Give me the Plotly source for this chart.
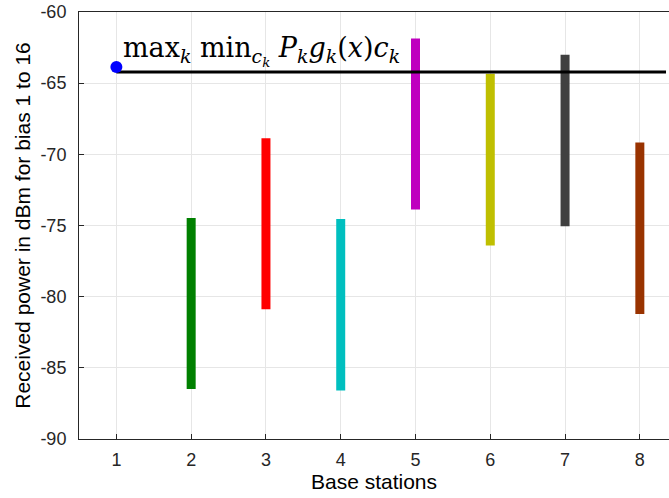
import plotly.graph_objects as go

stations = [2, 3, 4, 5, 6, 7, 8]
top_vals = [-74.47, -68.87, -74.55, -61.86, -64.34, -63.00, -69.17]
bottom_vals = [-86.49, -80.88, -86.59, -73.87, -76.40, -75.06, -81.21]
bar_colors = ["#008000", "#ff0000", "#00bfbf", "#bf00bf", "#bfbf00", "#404040", "#993300"]
point_x = [1]
point_y = [-63.87]
line_x = [1, 8.35]
line_y = [-64.22, -64.22]
x_ticks = [1, 2, 3, 4, 5, 6, 7, 8]
y_ticks = [-90, -85, -80, -75, -70, -65, -60]
y_ticktext = ["%d" % v for v in y_ticks]

fig = go.Figure()
for s, t, b, c in zip(stations, top_vals, bottom_vals, bar_colors):
    fig.add_trace(go.Scatter(x=[s, s], y=[b, t], mode="lines",
                             line=dict(color=c, width=9), showlegend=False))
fig.add_trace(go.Scatter(x=line_x, y=line_y, mode="lines",
                         line=dict(color="black", width=3), showlegend=False))
fig.add_trace(go.Scatter(x=point_x, y=point_y, mode="markers",
                         marker=dict(color="#0000ff", size=12), showlegend=False))

fig.add_annotation(x=1.06, y=-64.2, xref="x", yref="y", xanchor="left", yanchor="bottom",
                   showarrow=False,
                   text="max<sub><i>k</i></sub> min<sub><i>c<sub>k</sub></i></sub> <i>P<sub>k</sub>g<sub>k</sub></i>(<i>x</i>)<i>c<sub>k</sub></i>",
                   font=dict(family="DejaVu Serif", size=27, color="black"))

tick_font = dict(family="Liberation Sans, Arial", size=18, color="#262626")
title_font = dict(family="Liberation Sans, Arial", size=21, color="black")
fig.update_layout(
    width=669, height=498,
    margin=dict(l=79, r=0, t=12, b=59),
    plot_bgcolor="white", paper_bgcolor="white",
    xaxis=dict(range=[0.5, 8.39], tickvals=x_ticks, ticks="inside", ticklen=5,
               tickcolor="#262626", showline=True, linecolor="#262626", linewidth=1,
               mirror=True, showgrid=True, gridcolor="#e6e6e6", zeroline=False,
               tickfont=tick_font, ticklabelstandoff=4,
               title=dict(text="Base stations", font=title_font, standoff=2)),
    yaxis=dict(range=[-90, -60], tickvals=y_ticks, ticktext=y_ticktext, ticks="inside", ticklen=5,
               tickcolor="#262626", showline=True, linecolor="#262626", linewidth=1,
               showgrid=True, gridcolor="#e6e6e6", zeroline=False,
               tickfont=tick_font, ticklabelstandoff=8,
               title=dict(text="Received power in dBm for bias 1 to 16", font=title_font, standoff=4)),
)
fig.write_html("out.html")
